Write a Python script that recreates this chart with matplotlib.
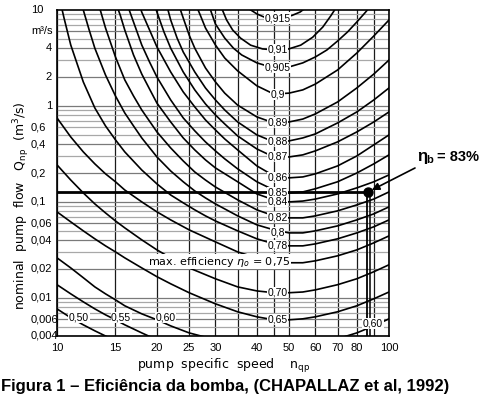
import matplotlib
matplotlib.use('Agg')
import matplotlib.pyplot as plt
from matplotlib import transforms as mtrans

W, H = 495, 399

# log paper grid of the original chart
nq_lines = [10, 15, 20, 25, 30, 35, 40, 45, 50, 60, 70, 80, 90, 100]
nq_ticks = [10, 15, 20, 25, 30, 40, 50, 60, 70, 80, 100]
q_ticks = [10, 6, 4, 2, 1, 0.6, 0.4, 0.2, 0.1, 0.06, 0.04, 0.02, 0.01, 0.006, 0.004]
q_labels = ['10', 'm³/s', '4', '2', '1', '0,6', '0,4', '0,2', '0,1', '0,06',
            '0,04', '0,02', '0,01', '0,006', '0,004']

# efficiency curves: specific speed nq and flow Q (m3/s)
nq_915 = [36, 38, 40, 42, 45, 48, 51, 54, 57]
q_915 = [12.7, 10.2, 9.1, 8.46, 8.25, 8.35, 8.77, 9.53, 11.0]
nq_910 = [31, 31.5, 32.4, 33.8, 35.7, 38.3, 41.6, 45.4, 49.9, 54.2, 58.9, 63.2, 66.8, 69.2]
q_910 = [11, 10, 7.9, 6.2, 5.1, 4.3, 3.93, 3.83, 3.93, 4.3, 5.2, 6.65, 8.7, 10.5]
nq_905 = [28.5, 29, 30, 32, 34, 36, 40, 45, 50, 55, 60, 65, 70, 75, 80, 85, 90]
q_905 = [12.7, 10, 7.15, 5.1, 4.0, 3.4, 2.81, 2.49, 2.55, 2.81, 3.24, 3.83, 4.75, 5.9, 7.5, 9.5, 12.1]
nq_900 = [26, 27, 28, 30, 32, 35, 40, 45, 50, 55, 60, 70, 80, 90, 100]
q_900 = [12.1, 8.87, 6.5, 4.32, 3.16, 2.32, 1.62, 1.33, 1.36, 1.47, 1.69, 2.37, 3.56, 5.36, 7.87]
nq_890 = [23, 24, 25, 26, 28, 30, 32, 35, 40, 45, 50, 55, 60, 70, 80, 90, 100]
q_890 = [12.7, 8.25, 5.49, 4.0, 2.49, 1.78, 1.36, 1.02, 0.768, 0.665, 0.681, 0.73, 0.826,
         1.1, 1.54, 2.15, 3.01]
nq_880 = [21, 22, 23, 24, 26, 28, 30, 32, 35, 40, 45, 50, 55, 60, 70, 80, 90, 100]
q_880 = [14.3, 7.87, 5.1, 3.65, 2.26, 1.54, 1.155, 0.908, 0.681, 0.499, 0.422, 0.432,
         0.464, 0.511, 0.665, 0.866, 1.155, 1.54]
nq_870 = [19.5, 20, 21, 22, 24, 26, 28, 30, 32, 35, 40, 45, 50, 55, 60, 70, 80, 90, 100]
q_870 = [12.7, 9.5, 5.9, 4.0, 2.26, 1.47, 1.05, 0.806, 0.649, 0.487, 0.356, 0.294, 0.294,
         0.309, 0.34, 0.422, 0.536, 0.681, 0.866]
nq_860 = [17.5, 18, 19, 20, 22, 24, 26, 28, 30, 32, 35, 40, 45, 50, 55, 60, 70, 80, 90, 100]
q_860 = [12.7, 9.5, 6.19, 4.12, 2.26, 1.40, 0.977, 0.715, 0.562, 0.453, 0.348, 0.237,
         0.187, 0.178, 0.182, 0.196, 0.237, 0.301, 0.393, 0.499]
nq_850 = [16, 16.5, 17, 18, 19, 20, 22, 24, 26, 28, 30, 32, 35, 40, 45, 50, 55, 60, 70,
          80, 90, 100]
q_850 = [14.3, 10, 7.5, 4.32, 2.87, 2.0, 1.155, 0.75, 0.55, 0.422, 0.34, 0.281, 0.221,
         0.162, 0.133, 0.124, 0.127, 0.137, 0.162, 0.2, 0.249, 0.309]
nq_840 = [15, 15.5, 16, 17, 18, 19, 20, 22, 24, 26, 28, 30, 35, 40, 45, 50, 55, 60, 70,
          80, 90, 100]
q_840 = [12.1, 8.87, 6.19, 3.40, 2.15, 1.50, 1.07, 0.681, 0.464, 0.348, 0.274, 0.226,
         0.162, 0.121, 0.105, 0.1, 0.102, 0.107, 0.121, 0.14, 0.162, 0.191]
nq_820 = [13, 13.5, 14, 15, 16, 17, 18, 20, 22, 24, 26, 28, 30, 35, 40, 45, 50, 55, 60,
          70, 80, 90, 100]
q_820 = [16, 10, 6.5, 3.24, 1.87, 1.27, 0.908, 0.536, 0.365, 0.267, 0.205, 0.169, 0.143,
         0.105, 0.0826, 0.0715, 0.0681, 0.0681, 0.0715, 0.0806, 0.093, 0.107, 0.127]
nq_800 = [11.5, 12, 12.5, 13, 14, 15, 16, 17, 18, 20, 22, 24, 26, 28, 30, 35, 40, 45, 50,
          55, 60, 70, 80, 90, 100]
q_800 = [16, 10, 6.19, 4.0, 2.10, 1.27, 0.845, 0.619, 0.464, 0.294, 0.21, 0.162, 0.13,
         0.11, 0.0953, 0.0715, 0.0576, 0.0511, 0.0475, 0.0475, 0.0499, 0.0562, 0.0649,
         0.075, 0.0887]
nq_780 = [10.2, 10.5, 11, 12, 13, 14, 15, 16, 18, 20, 22, 24, 26, 28, 30, 35, 40, 45, 50,
          55, 60, 70, 80, 90, 100]
q_780 = [12.7, 8.25, 4.32, 1.78, 0.953, 0.619, 0.443, 0.332, 0.215, 0.154, 0.118, 0.0977,
         0.0826, 0.0715, 0.0633, 0.0499, 0.0412, 0.0365, 0.0348, 0.0348, 0.0365, 0.0412,
         0.0475, 0.055, 0.0649]
nq_750 = [10, 11, 12, 13, 14, 15, 16, 18, 20, 22, 25, 30, 35, 40, 45, 50, 55, 60, 70, 80,
          90, 100]
q_750 = [0.75, 0.475, 0.332, 0.249, 0.196, 0.162, 0.133, 0.1, 0.0787, 0.0649, 0.0511,
         0.0383, 0.0301, 0.0261, 0.0237, 0.0232, 0.0232, 0.0243, 0.0274, 0.0316, 0.0374,
         0.0442]
nq_700 = [10, 11, 12, 13, 14, 15, 16, 18, 20, 22, 25, 30, 35, 40, 45, 50, 55, 60, 70, 80,
          90, 100]
q_700 = [0.243, 0.169, 0.124, 0.0953, 0.0767, 0.0633, 0.0536, 0.0402, 0.0316, 0.0261,
         0.0205, 0.0158, 0.013, 0.0118, 0.0113, 0.0113, 0.0115, 0.0121, 0.0137, 0.0158,
         0.0187, 0.0221]
nq_650 = [10, 11, 12, 13, 14, 15, 16, 18, 20, 22, 25, 30, 35, 40, 45, 50, 55, 60, 70, 80,
          90, 100]
q_650 = [0.0787, 0.0619, 0.0499, 0.0412, 0.0348, 0.0301, 0.0261, 0.0205, 0.0166, 0.014,
         0.0113, 0.00866, 0.00715, 0.00634, 0.0059, 0.0059, 0.00604, 0.00634, 0.00715,
         0.00826, 0.00977, 0.0115]
nq_600 = [10, 11, 12, 13, 14, 15, 16, 18, 20, 22, 25, 30, 35, 40, 50, 60, 70, 80, 90, 100]
q_600 = [0.0261, 0.0205, 0.0162, 0.013, 0.011, 0.00953, 0.00826, 0.00681, 0.0059, 0.0051,
         0.00431, 0.00365, 0.00332, 0.00316, 0.00309, 0.00332, 0.00374, 0.00431, 0.0051,
         0.00604]
nq_550 = [10, 11, 12, 13, 14, 15, 16, 18, 20, 24]
q_550 = [0.0137, 0.011, 0.00908, 0.00767, 0.00665, 0.0059, 0.00523, 0.00431, 0.00365,
         0.00288]
nq_500 = [10, 11, 12, 13, 14, 16]
q_500 = [0.00767, 0.0062, 0.00523, 0.00453, 0.004, 0.00324]

# curve labels in the middle column (nq ~ 46)
mid_labels = ['0,915', '0,91', '0,905', '0,9', '0,89', '0,88', '0,87', '0,86', '0,85',
              '0,84', '0,82', '0,8', '0,78', '0,70', '0,65']
mid_label_q = [8.25, 3.83, 2.49, 1.33, 0.665, 0.422, 0.294, 0.18, 0.125, 0.101, 0.069,
               0.048, 0.035, 0.0113, 0.0059]
low_labels = ['0,50', '0,55', '0,60']
low_label_nq = [11.65, 15.6, 21.2]

# selected pump
op_nq, op_q = 86.5, 0.127

curves = [(nq_915, q_915), (nq_910, q_910), (nq_905, q_905), (nq_900, q_900),
          (nq_890, q_890), (nq_880, q_880), (nq_870, q_870), (nq_860, q_860),
          (nq_850, q_850), (nq_840, q_840), (nq_820, q_820), (nq_800, q_800),
          (nq_780, q_780), (nq_750, q_750), (nq_700, q_700), (nq_650, q_650),
          (nq_600, q_600), (nq_550, q_550), (nq_500, q_500)]

fig = plt.figure(figsize=(W / 100, H / 100), dpi=100)
ax = fig.add_axes([57 / W, 1 - 336 / H, 332 / W, 326 / H])
ax.set_xscale('log')
ax.set_yscale('log')
ax.set_xlim(10, 100)
ax.set_ylim(0.004, 10)
for s in ax.spines.values():
    s.set_linewidth(1.2)

# grid
for n in nq_lines:
    ax.axvline(n, color='#1a1a1a', lw=0.9, zorder=1)
for e in range(-3, 1):
    for k in range(1, 10):
        q = k * 10.0 ** e
        if 0.004 <= q <= 10:
            dark = q in q_ticks
            ax.axhline(q, color='#7a7a7a' if dark else '#a8a8a8', lw=0.9, zorder=1)

for nq, q in curves:
    ax.plot(nq, q, color='black', lw=1.2, zorder=3, solid_joinstyle='round')

lbl = dict(ha='center', va='center', fontsize=7.5, family='Liberation Sans', zorder=5,
           bbox=dict(fc='white', ec='none', pad=0.4))
for t, q in zip(mid_labels, mid_label_q):
    ax.text(46.2, q, t, **lbl)
ax.text(89.5, 0.00536, '0,60', **lbl)
for t, n in zip(low_labels, low_label_nq):
    ax.text(n, 0.0062, t, **lbl)
ax.text(50.6, 0.0237, r'max. efficiency $\eta_o$ = 0,75', ha='right', va='center',
        fontsize=8, zorder=5, bbox=dict(fc='white', ec='none', pad=0.3))

# operating point
ax.plot([10, op_nq], [op_q, op_q], color='black', lw=2.0, zorder=4)
ax.plot([op_nq - 0.5, op_nq - 0.5], [0.004, op_q], color='black', lw=1.3, zorder=4)
ax.plot([op_nq + 1.1, op_nq + 1.1], [0.004, op_q], color='black', lw=1.1, zorder=4)
ax.plot([op_nq], [op_q], 'o', color='black', ms=6.5, zorder=6)
ax.annotate('', xy=(op_nq, op_q), xytext=(415, H - 168), textcoords='figure pixels',
            arrowprops=dict(arrowstyle='-|>', color='black', lw=1.2,
                            mutation_scale=11, shrinkA=0, shrinkB=3),
            annotation_clip=False, zorder=7)
yt = 1 - 157 / H
fig.text(417 / W, yt, 'η', fontsize=12, fontweight='bold', family='Liberation Sans', va='center')
fig.text(426 / W, yt - 3 / H, 'b', fontsize=8, fontweight='bold', family='Liberation Sans', va='center')
fig.text(437 / W, yt, '= 83%', fontsize=10.5, fontweight='bold', family='Liberation Sans', va='center')

# ticks
ax.minorticks_off()
ax.set_xticks(nq_ticks)
ax.set_xticklabels([str(t) for t in nq_ticks], family=['Liberation Sans Narrow', 'Liberation Sans'],
                   fontsize=8)
ax.tick_params(axis='x', length=0, pad=5)
ax.set_yticks([])
tr = mtrans.blended_transform_factory(fig.transFigure, ax.transData)
for q, t in zip(q_ticks, q_labels):
    if len(t) == 1:
        ax.text(52 / W, q, t, transform=tr, ha='right', va='center', fontsize=8,
                family=['Liberation Sans Narrow', 'Liberation Sans'], clip_on=False)
    else:
        ax.text(31 / W, q, t, transform=tr, ha='left', va='center', fontsize=8,
                family=['Liberation Sans Narrow', 'Liberation Sans'], clip_on=False)

fig.text(22 / W, 1 - 206 / H, r'nominal  pump  flow   $\mathrm{Q_{np}}$  (m$^3$/s)',
         rotation=90, ha='center', va='center', fontsize=9)
fig.text(224 / W, 1 - 366 / H, r'pump  specific  speed    $\mathrm{n_{qp}}$',
         ha='center', va='center', fontsize=9)
fig.text(1 / W, 1 - 387 / H, 'Figura 1 – Eficiência da bomba, (CHAPALLAZ et al, 1992)',
         ha='left', va='center', fontsize=12, fontweight='bold', family='Liberation Sans')

fig.savefig('out.png', dpi=100)
